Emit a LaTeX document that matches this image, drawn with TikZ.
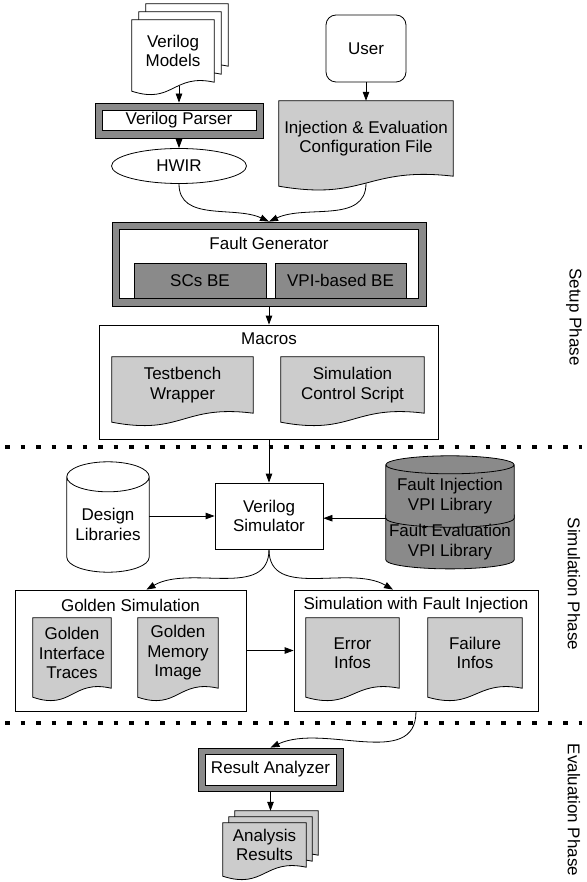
\documentclass[tikz,border=0pt]{standalone}
\usepackage{fontspec}
\setmainfont{Liberation Sans}
\usetikzlibrary{arrows.meta, backgrounds, calc, shapes.geometric}

\definecolor{docgray}{RGB}{204,204,204}
\definecolor{framegray}{RGB}{138,138,138}

% document outline with a wavy bottom around a node
\newcommand{\docu}[3][9pt]{%
  \path[draw, line width=0.8pt, fill=#3] let \p1=(#2.north west), \p2=(#2.south east) in
    (\p1) -- (\x2,\y1) -- (\p2)
    .. controls ({(\x1+\x2)/2},{\y2+#1}) and ({(\x1+\x2)/2},{\y2-2.5*#1}) .. (\x1,{\y2-#1}) -- cycle;}
% cylinder around a node (node = face below the top cap)
\newcommand{\cyl}[3]{%
  \path[draw, line width=0.8pt, fill=#3] let \p1=(#1.north west), \p2=(#1.south east) in
    (\x1,{\y1+#2}) -- (\x1,\y2) arc[start angle=180, end angle=360, x radius={(\x2-\x1)/2}, y radius=#2]
    -- (\x2,{\y1+#2}) arc[start angle=0, end angle=180, x radius={(\x2-\x1)/2}, y radius=#2] -- cycle
    (\x1,{\y1+#2}) arc[start angle=180, end angle=360, x radius={(\x2-\x1)/2}, y radius=#2];}

\begin{document}
\begin{tikzpicture}[x=1pt, y=-1pt, font=\fontsize{17}{19.5}\selectfont,
    every node/.style={align=center, inner sep=0pt},
    box/.style={draw, line width=0.8pt, fill=white},
    outerbox/.style={draw, line width=0.8pt, fill=framegray},
    groupbox/.style={draw, line width=0.8pt},
    arr/.style={line width=0.8pt, -{Triangle[length=9pt, width=6.5pt]}},
    phasesep/.style={line width=4pt, dash pattern=on 4.5pt off 11pt}]
  \useasboundingbox (0,0) rectangle (586,882);

  \node[minimum width=82pt, minimum height=62pt] (models3) at (187,35) {};
  \node[minimum width=82pt, minimum height=62pt] (models2) at (180,43) {};
  \node[minimum width=82pt, minimum height=62pt] (models) at (173,51) {Verilog\\Models};
  \node[box, rounded corners=10pt, minimum width=80pt, minimum height=67pt] (user) at (366,48.5) {User};
  \node[outerbox, minimum width=168pt, minimum height=35pt] (parser) at (179,120.5) {};
  \node[box, minimum width=154pt, minimum height=20pt] (parserin) at (parser) {Verilog Parser};
  \node[minimum width=174pt, minimum height=75pt] (config) at (366,138.5) {Injection \& Evaluation\\Configuration File};
  \node[box, ellipse, minimum width=135pt, minimum height=35pt] (hwir) at (179,166) {HWIR};

  \node[outerbox, minimum width=314pt, minimum height=84pt] (fgen) at (269,264) {};
  \node[box, minimum width=299pt, minimum height=69pt] (fgenin) at (268.5,263.5) {};
  \node (fgentitle) at (269,243) {Fault Generator};
  \node[outerbox, minimum width=132pt, minimum height=35pt] (scbe) at (200,280.5) {SCs BE};
  \node[outerbox, minimum width=131pt, minimum height=35pt] (vpibe) at (340.5,280.5) {VPI-based BE};

  \node[groupbox, minimum width=339pt, minimum height=114pt] (macros) at (268.5,382) {};
  \node (macrostitle) at (269,339) {Macros};
  \node[minimum width=141pt, minimum height=56pt] (tbw) at (182.5,385) {Testbench\\Wrapper};
  \node[minimum width=143pt, minimum height=56pt] (simctrl) at (352.5,385) {Simulation\\Control Script};

  \draw[phasesep] (5,447) -- (582,447);

  \node[box, minimum width=108pt, minimum height=66pt] (vsim) at (269,516) {Verilog\\Simulator};
  \node[minimum width=82pt, minimum height=65pt] (designlib) at (108,524.5) {Design\\Libraries};
  \node[minimum width=128pt, minimum height=44pt] (fijlib) at (450,496) {Fault Injection\\VPI Library};
  \node[minimum width=128pt, minimum height=34pt] (fevlib) at (450,542) {Fault Evaluation\\VPI Library};

  \node[groupbox, minimum width=231pt, minimum height=121pt] (golden) at (130.5,650.5) {};
  \node (goldentitle) at (130.5,605) {Golden Simulation};
  \node[minimum width=78pt, minimum height=70pt] (git) at (72,653) {Golden\\Interface\\Traces};
  \node[minimum width=80pt, minimum height=70pt] (gmi) at (178,653) {Golden\\Memory\\Image};
  \node[groupbox, minimum width=244pt, minimum height=121pt] (simfault) at (416,650.5) {};
  \node (simfaulttitle) at (416,605) {Simulation with Fault Injection};
  \node[minimum width=93pt, minimum height=70pt] (errinfo) at (352.5,653) {Error\\Infos};
  \node[minimum width=94pt, minimum height=70pt] (failinfo) at (475,653) {Failure\\Infos};

  \draw[phasesep] (5,723) -- (582,723);

  \node[outerbox, minimum width=145pt, minimum height=43pt] (ra) at (270.5,769.5) {};
  \node[box, minimum width=131pt, minimum height=31pt] (rain) at (ra) {Result Analyzer};
  \node[minimum width=83pt, minimum height=44pt] (results3) at (276.5,833) {};
  \node[minimum width=83pt, minimum height=44pt] (results2) at (270.5,839) {};
  \node[minimum width=83pt, minimum height=44pt] (results) at (264.5,845) {Analysis\\Results};

  \node[rotate=-90] (setup) at (574,317) {Setup Phase};
  \node[rotate=-90] (simphase) at (574,584) {Simulation Phase};
  \node[rotate=-90] (evalphase) at (574,810) {Evaluation Phase};

  \draw[arr] (parser.north |- models.south) ++(0,4) -- (parser.north);
  \draw[arr] (user) -- (config);
  \draw[arr] (parser) -- (hwir);
  \draw[arr] (hwir.south) to[out=-90, in=155] (fgen.north);
  \draw[arr] (config.south) ++(0,7) to[out=-90, in=25] (fgen.north);
  \draw[arr] (fgen.south) -- (fgen.south |- macros.north);
  \draw[arr] (vsim.north |- macros.south) -- (vsim.north);
  \draw[arr] (designlib.east |- vsim.west) -- (vsim.west);
  \draw[arr] (fijlib.south west) -- (vsim.east |- fijlib.south west);
  \draw[arr] (vsim.south) to[out=-90, in=30] ([xshift=16pt]golden.north);
  \draw[arr] (vsim.south) to[out=-90, in=150] ([xshift=-23pt]simfault.north);
  \draw[arr] (golden) -- (simfault);
  \draw[arr] (simfault.south) to[out=-90, in=25] (ra.north);
  \draw[arr] (ra.south) -- (ra.south |- results3.north);

  \begin{scope}[on background layer]
    \fill[white] (0,0) rectangle (586,882);
    \docu{models3}{white}
    \docu{models2}{white}
    \docu{models}{white}
    \docu[10pt]{config}{docgray}
    \docu{tbw}{docgray}
    \docu{simctrl}{docgray}
    \cyl{designlib}{15pt}{white}
    \cyl{fevlib}{9pt}{framegray}
    \cyl{fijlib}{9pt}{framegray}
    \docu{git}{docgray}
    \docu{gmi}{docgray}
    \docu{errinfo}{docgray}
    \docu{failinfo}{docgray}
    \docu{results3}{docgray}
    \docu{results2}{docgray}
    \docu{results}{docgray}
  \end{scope}
\end{tikzpicture}
\end{document}
